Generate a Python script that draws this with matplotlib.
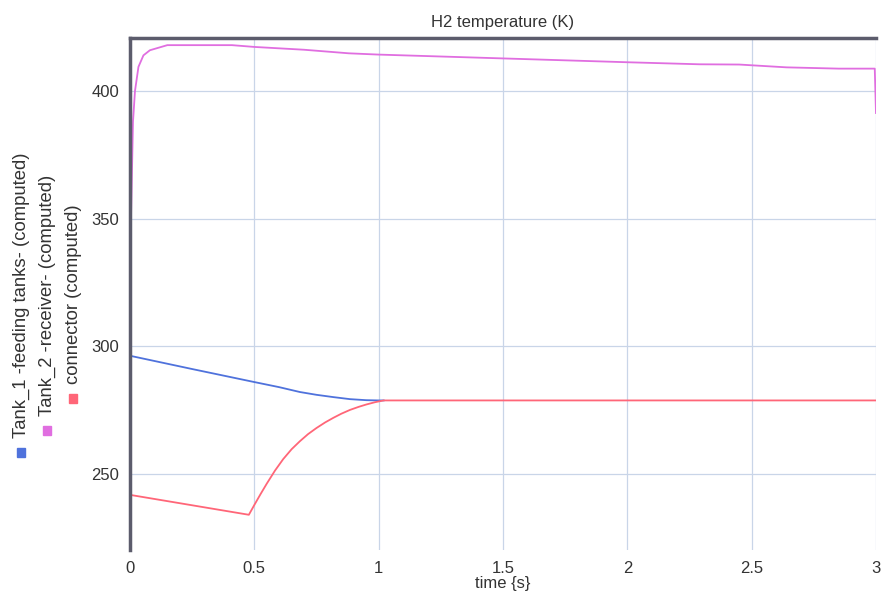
import matplotlib
matplotlib.use("Agg")
import matplotlib.pyplot as plt

plt.rcParams['font.family'] = ['Liberation Sans', 'DejaVu Sans']

# Data
t_tank1 = [0, 0.25, 0.5, 0.6, 0.683, 0.75, 0.818, 0.885, 0.95, 1.0, 1.02]
v_tank1 = [296.3, 291.1, 286.0, 284.0, 282.1, 281.0, 280.1, 279.3, 278.9, 278.8, 278.8]

t_tank2 = [0, 0.004, 0.012, 0.02, 0.034, 0.054, 0.08, 0.15, 0.2, 0.41, 0.5, 0.7,
           0.88, 1.0, 1.5, 2.0, 2.29, 2.45, 2.64, 2.85, 2.995, 3.0]
v_tank2 = [296, 350, 388, 400, 409.5, 414, 416, 418, 418, 418, 417.3, 416.2,
           414.8, 414.3, 412.8, 411.3, 410.5, 410.4, 409.3, 408.8, 408.8, 391.4]

t_conn = [0, 0.478, 0.5, 0.525, 0.55, 0.583, 0.616, 0.65, 0.683, 0.716, 0.75, 0.785,
          0.818, 0.85, 0.885, 0.92, 0.95, 0.985, 1.02, 3.0]
v_conn = [241.8, 234.0, 237.85, 242.1, 246.2, 251.3, 255.8, 259.7, 262.8, 265.6, 268.0, 270.2,
          272.0, 273.6, 275.1, 276.3, 277.2, 278.1, 278.8, 278.8]

labels = ["Tank_1 -feeding tanks- (computed)",
          "Tank_2 -receiver- (computed)",
          "connector (computed)"]
colors = ["#4f72dc", "#e06ee0", "#ff6678"]

x_ticks = [0, 0.5, 1, 1.5, 2, 2.5, 3]
x_ticklabels = ["0", "0.5", "1", "1.5", "2", "2.5", "3"]
y_ticks = [250, 300, 350, 400]

fig = plt.figure(figsize=(8.85, 5.97), dpi=100)
ax = fig.add_axes([130/885, 1-550/597, 746/885, 512/597])

grid_c = "#c9d5e8"
for xv in x_ticks:
    ax.axvline(xv, color=grid_c, lw=0.9, zorder=0)
for yv in y_ticks:
    ax.axhline(yv, color=grid_c, lw=0.9, zorder=0)

ax.plot(t_conn, v_conn, color=colors[2], lw=1.3, zorder=3)
ax.plot(t_tank1, v_tank1, color=colors[0], lw=1.3, zorder=2)
ax.plot(t_tank2, v_tank2, color=colors[1], lw=1.3, zorder=3)

ax.set_xlim(0, 3)
ax.set_ylim(220.2, 420.8)
ax.set_xticks(x_ticks)
ax.set_xticklabels(x_ticklabels)
ax.set_yticks(y_ticks)
ax.tick_params(length=0, labelsize=12, colors="#333333", pad=8)
ax.tick_params(axis='x', pad=8)

for s in ["right", "bottom"]:
    ax.spines[s].set_visible(False)
for s in ["top", "left"]:
    ax.spines[s].set_color("#5c5c6c")
    ax.spines[s].set_linewidth(2.5)
    ax.spines[s].set_zorder(5)

ax.set_title("H2 temperature (K)", fontsize=12, color="#333333", pad=8)
ax.set_xlabel("time {s}", fontsize=12, color="#333333", labelpad=0)

# rotated legend on the left
leg_pos = [(21, 447), (47, 425), (73, 393)]
for (px, py), lab, c in zip(leg_pos, labels, colors):
    fig.patches.append(plt.Rectangle((px/885 - 4/885, 1 - (py + 10)/597), 8/885, 9/597,
                                     transform=fig.transFigure, color=c, figure=fig))
    fig.text(px/885, 1 - (py - 9)/597, lab, rotation=90, rotation_mode='anchor',
             ha='left', va='center', fontsize=13.3, color="#333333")

fig.savefig("out.png", dpi=100, facecolor="white")
